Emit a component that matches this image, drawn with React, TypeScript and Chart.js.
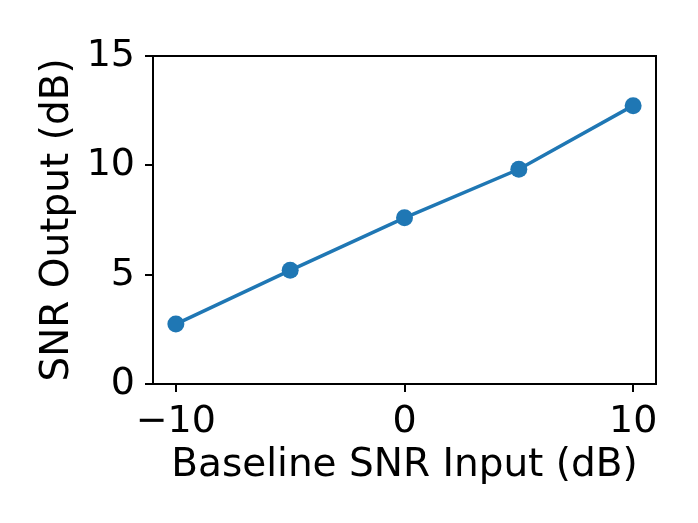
import React, { useEffect, useRef } from "react";
import { Chart, registerables } from "chart.js";

Chart.register(...registerables);

const xValues = [-10, -5, 0, 5, 10];
const yValues = [2.74, 5.2, 7.6, 9.82, 12.73];
const xTicks = [-10, 0, 10];
const yTicks = [0, 5, 10, 15];
const xLabel = "Baseline SNR Input (dB)";
const yLabel = "SNR Output (dB)";

const FONT = "'DejaVu Sans', sans-serif";

const framePlugin = {
  id: "frame",
  afterDraw(chart: any) {
    const { ctx, chartArea } = chart;
    ctx.save();
    ctx.strokeStyle = "#000";
    ctx.lineWidth = 2;
    ctx.strokeRect(chartArea.left, chartArea.top, chartArea.right - chartArea.left, chartArea.bottom - chartArea.top);
    ctx.restore();
  },
};

export default function App() {
  const ref = useRef<HTMLCanvasElement | null>(null);
  useEffect(() => {
    if (!ref.current) return;
    const chart = new Chart(ref.current, {
      type: "line",
      data: {
        datasets: [
          {
            data: xValues.map((x, i) => ({ x, y: yValues[i] })),
            borderColor: "#1f77b4",
            backgroundColor: "#1f77b4",
            borderWidth: 3.5,
            pointRadius: 8.5,
            pointBorderWidth: 0,
            pointBackgroundColor: "#1f77b4",
            tension: 0,
          },
        ],
      },
      options: {
        responsive: false,
        animation: false,
        layout: { padding: { top: 56, right: 42, left: 0, bottom: 0 } },
        plugins: { legend: { display: false }, tooltip: { enabled: false } },
        scales: {
          x: {
            type: "linear",
            min: -11,
            max: 11,
            afterBuildTicks: (s: any) => {
              s.ticks = xTicks.map((v) => ({ value: v }));
            },
            afterFit: (s: any) => {
              s.height = 139;
            },
            grid: { drawOnChartArea: false, drawTicks: true, tickLength: 8, color: "#000", lineWidth: 2 },
            border: { display: false },
            ticks: {
              color: "#000",
              padding: 7,
              maxRotation: 0,
              font: { family: FONT, size: 38 },
              callback: (v: any) => String(v).replace("-", "\u2212"),
            },
            title: {
              display: true,
              text: xLabel,
              color: "#000",
              font: { family: FONT, size: 39 },
              padding: { top: 0, bottom: 34 },
            },
          },
          y: {
            type: "linear",
            min: 0,
            max: 15,
            afterBuildTicks: (s: any) => {
              s.ticks = yTicks.map((v) => ({ value: v }));
            },
            afterFit: (s: any) => {
              s.width = 153;
            },
            grid: { drawOnChartArea: false, drawTicks: true, tickLength: 8, color: "#000", lineWidth: 2 },
            border: { display: false },
            ticks: {
              color: "#000",
              padding: 10,
              font: { family: FONT, size: 38 },
              callback: (v: any) => String(v),
            },
            title: {
              display: true,
              text: yLabel,
              color: "#000",
              font: { family: FONT, size: 39 },
              padding: { top: 34, bottom: 0 },
            },
          },
        },
      },
      plugins: [framePlugin],
    } as any);
    return () => chart.destroy();
  }, []);
  return (
    <div style={{ position: "absolute", left: 0, top: 0, width: 698, height: 523, background: "#fff" }}>
      <canvas ref={ref} width={698} height={523} />
    </div>
  );
}
